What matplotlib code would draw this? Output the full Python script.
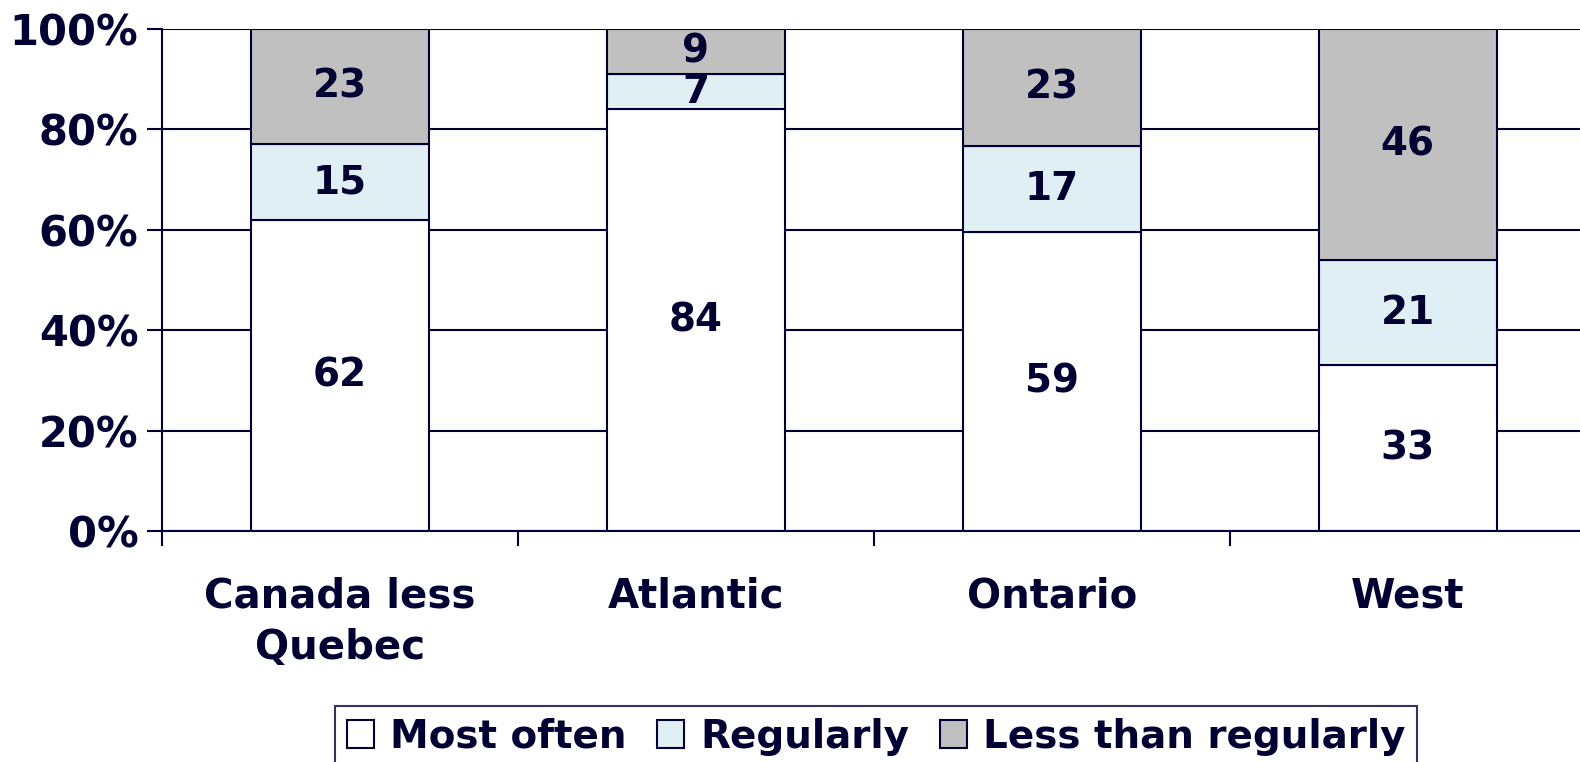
import numpy as np
import matplotlib.pyplot as plt

# data
regions = ['Canada less\nQuebec', 'Atlantic', 'Ontario', 'West']
most_often = [62, 84, 59, 33]
regularly = [15, 7, 17, 21]
less_than = [23, 9, 23, 46]
series_names = ['Most often', 'Regularly', 'Less than regularly']

navy = '#000033'
colors = ['#ffffff', '#dfeff3', '#c0c0c0']

plt.rcParams['font.family'] = 'DejaVu Sans'
plt.rcParams['font.weight'] = 'bold'

fig = plt.figure(figsize=(15.8, 7.62), dpi=100)
ax = fig.add_axes([0.1025, 0.3031, 0.901, 0.659])

series = np.array([most_often, regularly, less_than], dtype=float)
totals = series.sum(axis=0)
pct = series / totals * 100
x = np.arange(len(regions))

bottom = np.zeros(len(regions))
for k in range(3):
    ax.bar(x, pct[k], 0.5, bottom=bottom, color=colors[k], edgecolor=navy,
           linewidth=1.5, label=series_names[k])
    for i in range(len(regions)):
        ax.text(x[i], bottom[i] + pct[k][i] / 2, str(int(series[k][i])),
                ha='center', va='center', fontsize=28, fontweight='bold', color=navy)
    bottom += pct[k]

ax.set_xlim(-0.5, 3.5)
ax.set_ylim(0, 100)
ax.set_axisbelow(True)
ax.yaxis.grid(True, color=navy, linewidth=1.5)

ax.set_yticks([0, 20, 40, 60, 80, 100])
ax.set_yticklabels([f'{v}%' for v in [0, 20, 40, 60, 80, 100]], fontsize=30, color=navy)
ax.tick_params(axis='y', length=11, width=1.5, color=navy, pad=6)

ax.set_xticks([-0.5, 0.5, 1.5, 2.5])
ax.set_xticklabels([])
ax.tick_params(axis='x', which='major', length=11, width=1.5, color=navy)
ax.set_xticks(x, minor=True)
ax.set_xticklabels(regions, minor=True, fontsize=29, color=navy, linespacing=1.35)
ax.tick_params(axis='x', which='minor', length=0, pad=33)

for s in ['top', 'right']:
    ax.spines[s].set_visible(False)
for s in ['left', 'bottom']:
    ax.spines[s].set_color(navy)
    ax.spines[s].set_linewidth(1.5)

leg = fig.legend(loc='upper center', bbox_to_anchor=(0.5545, 0.0735), ncol=3,
                 fontsize=28, frameon=True, fancybox=False, edgecolor=navy,
                 handlelength=0.7, handleheight=0.7, handletextpad=0.4,
                 columnspacing=0.8, borderpad=0.3, borderaxespad=0,
                 labelcolor=navy)
leg.get_frame().set_linewidth(1.5)

fig.savefig('out.png', dpi=100)
